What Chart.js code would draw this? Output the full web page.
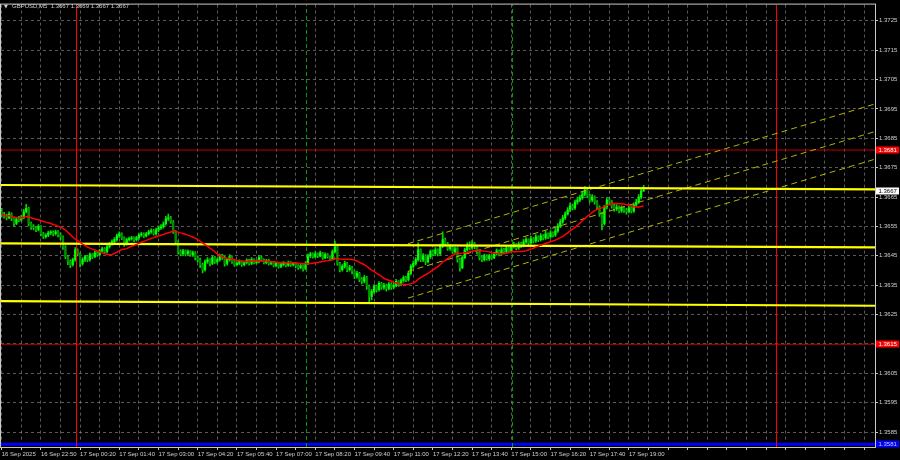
<!DOCTYPE html>
<html><head><meta charset="utf-8">
<script src="https://cdn.jsdelivr.net/npm/chart.js@4/dist/chart.umd.min.js"></script>
<style>html,body{margin:0;padding:0;background:#000;}canvas{display:block;}</style>
</head><body>
<canvas id="c" width="900" height="460"></canvas>
<script>
// ---------- DATA ----------
const symbolTitle = "GBPUSD,M5  1.3667 1.3669 1.3667 1.3667";
const firstOpen = 1.36600;
const closes = [
1.36590,1.36585,1.36580,1.36592,1.36578,1.36560,1.36575,1.36572,1.36580,1.36600,
1.36612,1.36560,1.36548,1.36545,1.36540,1.36550,1.36525,1.36515,1.36520,1.36528,
1.36530,1.36525,1.36532,1.36520,1.36515,1.36480,1.36447,1.36430,1.36420,1.36437,
1.36470,1.36457,1.36424,1.36437,1.36447,1.36437,1.36454,1.36447,1.36460,1.36454,
1.36467,1.36474,1.36464,1.36481,1.36491,1.36498,1.36505,1.36518,1.36525,1.36511,
1.36491,1.36505,1.36508,1.36511,1.36505,1.36511,1.36521,1.36525,1.36518,1.36525,
1.36532,1.36535,1.36525,1.36538,1.36545,1.36549,1.36559,1.36576,1.36579,1.36566,
1.36532,1.36498,1.36464,1.36457,1.36467,1.36457,1.36464,1.36454,1.36460,1.36444,
1.36437,1.36420,1.36403,1.36430,1.36437,1.36424,1.36444,1.36430,1.36437,1.36450,
1.36444,1.36424,1.36437,1.36447,1.36430,1.36420,1.36424,1.36430,1.36420,1.36427,
1.36434,1.36424,1.36437,1.36427,1.36430,1.36444,1.36437,1.36427,1.36434,1.36424,
1.36427,1.36417,1.36424,1.36414,1.36420,1.36424,1.36417,1.36427,1.36420,1.36424,
1.36417,1.36410,1.36417,1.36407,1.36424,1.36450,1.36457,1.36447,1.36457,1.36450,
1.36460,1.36444,1.36454,1.36447,1.36440,1.36464,1.36481,1.36424,1.36403,1.36414,
1.36424,1.36403,1.36410,1.36397,1.36380,1.36390,1.36370,1.36363,1.36376,1.36346,
1.36312,1.36329,1.36346,1.36336,1.36356,1.36343,1.36349,1.36339,1.36353,1.36343,
1.36349,1.36363,1.36353,1.36366,1.36376,1.36370,1.36390,1.36414,1.36424,1.36437,
1.36470,1.36437,1.36450,1.36430,1.36447,1.36464,1.36457,1.36470,1.36457,1.36484,
1.36505,1.36491,1.36474,1.36481,1.36464,1.36474,1.36437,1.36410,1.36444,1.36470,
1.36484,1.36477,1.36491,1.36481,1.36464,1.36444,1.36437,1.36450,1.36440,1.36450,
1.36444,1.36457,1.36467,1.36457,1.36470,1.36464,1.36477,1.36467,1.36481,1.36488,
1.36477,1.36491,1.36484,1.36498,1.36505,1.36494,1.36508,1.36501,1.36515,1.36505,
1.36518,1.36511,1.36525,1.36515,1.36528,1.36521,1.36535,1.36552,1.36566,1.36579,
1.36593,1.36606,1.36620,1.36613,1.36633,1.36640,1.36647,1.36660,1.36674,1.36654,
1.36640,1.36650,1.36633,1.36616,1.36593,1.36559,1.36616,1.36640,1.36633,1.36620,
1.36610,1.36616,1.36603,1.36613,1.36606,1.36600,1.36613,1.36603,1.36623,1.36633,
1.36650,1.36670,1.36670];
const highs = [
1.36612,1.36598,1.36592,1.36600,1.36596,1.36582,1.36580,1.36584,1.36588,1.36608,
1.36625,1.36616,1.36565,1.36556,1.36550,1.36556,1.36553,1.36530,1.36526,1.36534,
1.36536,1.36535,1.36538,1.36536,1.36528,1.36518,1.36485,1.36452,1.36436,1.36442,
1.36478,1.36474,1.36460,1.36444,1.36452,1.36452,1.36460,1.36458,1.36466,1.36464,
1.36472,1.36480,1.36478,1.36486,1.36496,1.36504,1.36512,1.36524,1.36532,1.36528,
1.36515,1.36510,1.36514,1.36516,1.36515,1.36516,1.36526,1.36530,1.36528,1.36530,
1.36538,1.36542,1.36540,1.36544,1.36552,1.36556,1.36566,1.36584,1.36592,1.36584,
1.36570,1.36536,1.36502,1.36470,1.36472,1.36470,1.36470,1.36468,1.36466,1.36464,
1.36450,1.36442,1.36425,1.36436,1.36444,1.36440,1.36450,1.36448,1.36442,1.36456,
1.36455,1.36448,1.36442,1.36454,1.36450,1.36434,1.36430,1.36436,1.36434,1.36432,
1.36440,1.36438,1.36444,1.36440,1.36436,1.36452,1.36448,1.36440,1.36438,1.36438,
1.36432,1.36430,1.36428,1.36427,1.36425,1.36430,1.36428,1.36432,1.36430,1.36428,
1.36427,1.36420,1.36422,1.36420,1.36430,1.36456,1.36462,1.36460,1.36464,1.36460,
1.36466,1.36462,1.36460,1.36458,1.36450,1.36470,1.36500,1.36484,1.36428,1.36420,
1.36432,1.36428,1.36418,1.36414,1.36400,1.36398,1.36394,1.36376,1.36384,1.36380,
1.36350,1.36336,1.36352,1.36350,1.36362,1.36360,1.36356,1.36354,1.36360,1.36358,
1.36356,1.36370,1.36366,1.36372,1.36382,1.36380,1.36396,1.36420,1.36432,1.36444,
1.36494,1.36474,1.36458,1.36454,1.36454,1.36470,1.36470,1.36478,1.36474,1.36490,
1.36532,1.36510,1.36496,1.36488,1.36486,1.36480,1.36478,1.36442,1.36450,1.36476,
1.36494,1.36498,1.36502,1.36496,1.36486,1.36468,1.36450,1.36456,1.36454,1.36456,
1.36454,1.36462,1.36474,1.36470,1.36478,1.36476,1.36484,1.36480,1.36488,1.36496,
1.36492,1.36498,1.36496,1.36506,1.36512,1.36508,1.36516,1.36512,1.36522,1.36518,
1.36526,1.36522,1.36534,1.36528,1.36536,1.36532,1.36544,1.36560,1.36574,1.36588,
1.36600,1.36614,1.36630,1.36626,1.36640,1.36650,1.36656,1.36668,1.36686,1.36678,
1.36660,1.36658,1.36654,1.36638,1.36620,1.36598,1.36622,1.36648,1.36646,1.36638,
1.36626,1.36624,1.36620,1.36620,1.36618,1.36612,1.36620,1.36618,1.36630,1.36642,
1.36658,1.36676,1.36690];
const lows = [
1.36582,1.36578,1.36572,1.36576,1.36570,1.36550,1.36556,1.36565,1.36568,1.36576,
1.36596,1.36552,1.36540,1.36538,1.36532,1.36535,1.36518,1.36508,1.36510,1.36515,
1.36522,1.36518,1.36520,1.36514,1.36505,1.36472,1.36440,1.36420,1.36410,1.36415,
1.36432,1.36450,1.36412,1.36418,1.36430,1.36430,1.36432,1.36440,1.36444,1.36448,
1.36450,1.36462,1.36458,1.36460,1.36476,1.36486,1.36494,1.36500,1.36512,1.36505,
1.36482,1.36486,1.36500,1.36503,1.36498,1.36500,1.36506,1.36516,1.36512,1.36514,
1.36520,1.36526,1.36520,1.36520,1.36532,1.36540,1.36544,1.36554,1.36570,1.36560,
1.36526,1.36490,1.36456,1.36450,1.36452,1.36450,1.36452,1.36448,1.36448,1.36436,
1.36428,1.36410,1.36392,1.36398,1.36424,1.36416,1.36420,1.36424,1.36424,1.36432,
1.36438,1.36415,1.36418,1.36432,1.36424,1.36414,1.36416,1.36420,1.36414,1.36416,
1.36422,1.36418,1.36420,1.36422,1.36422,1.36426,1.36432,1.36422,1.36422,1.36418,
1.36420,1.36412,1.36412,1.36408,1.36410,1.36416,1.36412,1.36414,1.36414,1.36416,
1.36410,1.36404,1.36406,1.36398,1.36402,1.36420,1.36444,1.36442,1.36444,1.36444,
1.36446,1.36438,1.36440,1.36442,1.36434,1.36436,1.36460,1.36418,1.36395,1.36398,
1.36408,1.36396,1.36398,1.36388,1.36372,1.36374,1.36362,1.36354,1.36358,1.36336,
1.36290,1.36300,1.36322,1.36326,1.36330,1.36336,1.36336,1.36330,1.36334,1.36336,
1.36338,1.36344,1.36346,1.36348,1.36360,1.36362,1.36364,1.36386,1.36408,1.36418,
1.36432,1.36430,1.36430,1.36420,1.36426,1.36440,1.36450,1.36452,1.36450,1.36452,
1.36478,1.36484,1.36468,1.36468,1.36458,1.36458,1.36428,1.36398,1.36406,1.36440,
1.36466,1.36470,1.36472,1.36474,1.36456,1.36436,1.36430,1.36432,1.36434,1.36434,
1.36438,1.36440,1.36452,1.36450,1.36452,1.36458,1.36460,1.36460,1.36462,1.36476,
1.36470,1.36472,1.36478,1.36480,1.36492,1.36488,1.36490,1.36494,1.36496,1.36498,
1.36500,1.36504,1.36506,1.36508,1.36510,1.36514,1.36516,1.36530,1.36546,1.36560,
1.36574,1.36588,1.36600,1.36606,1.36608,1.36626,1.36634,1.36642,1.36654,1.36648,
1.36632,1.36634,1.36626,1.36608,1.36584,1.36538,1.36554,1.36610,1.36626,1.36612,
1.36602,1.36604,1.36596,1.36598,1.36598,1.36592,1.36596,1.36596,1.36598,1.36618,
1.36628,1.36644,1.36670];
const timeLabels = ["16 Sep 2025","16 Sep 22:50","17 Sep 00:20","17 Sep 01:40","17 Sep 03:00",
  "17 Sep 04:20","17 Sep 05:40","17 Sep 07:00","17 Sep 08:20","17 Sep 09:40","17 Sep 11:00",
  "17 Sep 12:20","17 Sep 13:40","17 Sep 15:00","17 Sep 16:20","17 Sep 17:40","17 Sep 19:00"];
const priceTicks = [1.3585,1.3595,1.3605,1.3615,1.3625,1.3635,1.3645,1.3655,1.3665,1.3675,
  1.3685,1.3695,1.3705,1.3715,1.3725];
const maPeriod = 20;
// support / resistance lines [barIndex, price]
const yellowTop = [[-0.3, 1.36691], [356.5, 1.36676]];
const yellowMid = [[-0.3, 1.36492], [356.5, 1.36479]];
const yellowBot = [[-0.3, 1.36296], [356.5, 1.36280]];
const redLevels = [1.36810, 1.36149];
const blueLevel = 1.35809;
const channelTop = [[165.8, 1.36491], [356.5, 1.36967]];
const channelMid = [[165.8, 1.36397], [356.5, 1.36873]];
const channelBot = [[165.8, 1.36306], [356.5, 1.36779]];
const redVerticals = [30.53, 316.25];
const greenVerticals = [124.4, 208.49];
const priceBoxes = [
  {value: 1.3681, bg: '#ff0000', fg: '#ffffff'},
  {value: 1.3667, bg: '#ffffff', fg: '#000000'},
  {value: 1.3615, bg: '#ff0000', fg: '#ffffff'},
  {value: 1.3581, bg: '#0000ff', fg: '#c8c8ff'}
];
// ---------- VIEW ----------
const X_MIN = -0.29, X_MAX = 356.45;
const Y_MIN = 1.357993, Y_MAX = 1.373050;
const FONT = 'Liberation Sans';

const opens = closes.map((c, i) => i === 0 ? firstOpen : closes[i - 1]);
const wickData = closes.map((c, i) => ({x: i, y: [lows[i], highs[i]]}));
const bodyData = closes.map((c, i) => ({x: i, y: [opens[i], c]}));
const bodyColors = closes.map((c, i) => c >= opens[i] ? '#00ff00' : '#008c00');
const maData = closes.map((c, i) => {
  const s = Math.max(0, i - maPeriod + 1);
  let sum = 0;
  for (let k = s; k <= i; k++) sum += closes[k];
  return {x: i, y: sum / (i - s + 1)};
});

function seg(pts, color, width, dash, order) {
  return {type: 'line', data: pts.map(([x, y]) => ({x, y})), borderColor: color,
    borderWidth: width, borderDash: dash || [], pointRadius: 0, fill: false,
    tension: 0, order: order == null ? 3 : order, clip: 0};
}

const datasets = [];
datasets.push({type: 'bar', data: wickData, backgroundColor: '#00d800', barThickness: 1,
  grouped: false, order: 10, borderWidth: 0});
datasets.push({type: 'bar', data: bodyData, backgroundColor: bodyColors, barThickness: 1.6,
  grouped: false, order: 9, borderWidth: 0, minBarLength: 1});
greenVerticals.forEach(v => datasets.push(seg([[v, Y_MIN], [v, Y_MAX]], '#00a000', 1, [4, 3], 4)));
redVerticals.forEach(v => datasets.push(seg([[v, Y_MIN], [v, Y_MAX]], '#ff0000', 1, [], 4)));
redLevels.forEach(p => datasets.push(seg([[X_MIN, p], [X_MAX, p]], '#c00000', 1, [], 4)));
datasets.push(seg([[X_MIN, blueLevel], [X_MAX, blueLevel]], '#0000ff', 3, [], 4));
[channelTop, channelMid, channelBot].forEach(c => datasets.push(seg(c, '#b4b400', 1, [6, 4], 3)));
[yellowTop, yellowMid, yellowBot].forEach(c => datasets.push(seg(c, '#ffff00', 2.2, [], 2)));
datasets.push({type: 'line', data: maData, borderColor: '#ff0000', borderWidth: 1.5,
  pointRadius: 0, fill: false, tension: 0, order: 0});

const overlay = {
  id: 'overlay',
  afterDraw(chart) {
    const {ctx, chartArea: a} = chart;
    const y = chart.scales.y;
    ctx.save();
    ctx.strokeStyle = '#c8c8c8';
    ctx.lineWidth = 1;
    ctx.strokeRect(a.left - 0.5, a.top - 0.5, a.right - a.left + 1, a.bottom - a.top + 1);
    ctx.font = '6px "' + FONT + '"';
    ctx.textBaseline = 'middle';
    priceBoxes.forEach(b => {
      const py = Math.round(y.getPixelForValue(b.value));
      ctx.fillStyle = b.bg;
      ctx.fillRect(a.right + 1, py - 3.5, 23, 7);
      ctx.fillStyle = b.fg;
      ctx.textAlign = 'left';
      ctx.fillText(b.value.toFixed(4), a.right + 3.5, py + 0.5);
    });
    ctx.fillStyle = '#d0d0d0';
    ctx.font = '5px "DejaVu Sans"';
    ctx.fillText('\u25BC', 4, 6.5);
    ctx.font = '6px "' + FONT + '"';
    ctx.fillText(symbolTitle, 12, 6.5);
    ctx.restore();
  }
};

const gridOpts = {color: 'rgba(128,128,128,0.7)', lineWidth: 1, drawTicks: true, tickLength: 3,
  tickColor: '#c8c8c8', tickBorderDash: []};
const borderOpts = {display: true, color: '#c8c8c8', dash: [3, 3]};

new Chart(document.getElementById('c'), {
  type: 'bar',
  data: {datasets},
  options: {
    responsive: false, animation: false, devicePixelRatio: 1, events: [],
    layout: {padding: {left: 1, top: 1, right: 0, bottom: 0}},
    plugins: {legend: {display: false}, tooltip: {enabled: false}, title: {display: false}},
    scales: {
      x: {
        type: 'linear', min: X_MIN, max: X_MAX, offset: false,
        grid: Object.assign({offset: false}, gridOpts),
        border: borderOpts,
        afterBuildTicks: s => { const t = []; for (let v = 0; v <= 352; v += 8) t.push({value: v}); s.ticks = t; },
        afterFit: s => { s.height = 13; },
        ticks: {autoSkip: false, maxRotation: 0, minRotation: 0, align: 'start', padding: 1,
          color: '#d0d0d0', font: {family: FONT, size: 6},
          callback: v => (v % 16 === 0 && timeLabels[v / 16]) ? timeLabels[v / 16] : ''}
      },
      y: {
        type: 'linear', position: 'right', min: Y_MIN, max: Y_MAX,
        grid: gridOpts,
        border: borderOpts,
        afterBuildTicks: s => { s.ticks = priceTicks.map(v => ({value: v})); },
        afterFit: s => { s.width = 25; },
        ticks: {padding: 1, color: '#d0d0d0', font: {family: FONT, size: 6},
          callback: v => v.toFixed(4)}
      }
    }
  },
  plugins: [overlay]
});
</script>
</body></html>
